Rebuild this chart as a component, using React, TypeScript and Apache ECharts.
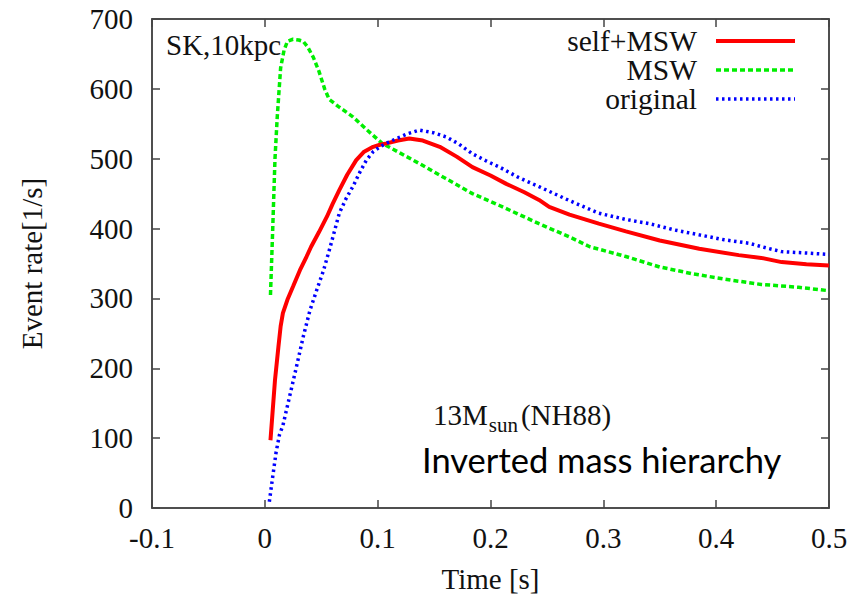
import React, { useEffect, useRef } from "react";
import * as echarts from "echarts";

const selfMswT = [0.005, 0.007, 0.009, 0.012, 0.014, 0.016, 0.020, 0.025, 0.031, 0.037, 0.041, 0.048, 0.055, 0.060, 0.066, 0.073, 0.081, 0.088, 0.096, 0.102, 0.108, 0.118, 0.128, 0.140, 0.155, 0.170, 0.184, 0.200, 0.214, 0.230, 0.243, 0.252, 0.270, 0.296, 0.320, 0.350, 0.385, 0.420, 0.440, 0.458, 0.480, 0.500];
const selfMswV = [97, 140, 183, 230, 260, 279, 298, 317, 340, 360, 374, 395, 417, 435, 455, 477, 498, 510, 517, 520, 522, 526, 529, 526, 517, 503, 488, 476, 464, 452, 441, 431, 420, 407, 396, 383, 371, 362, 358, 352, 349, 347];

const mswT = [0.005, 0.007, 0.009, 0.011, 0.014, 0.017, 0.020, 0.025, 0.030, 0.034, 0.038, 0.043, 0.048, 0.053, 0.057, 0.065, 0.078, 0.090, 0.104, 0.120, 0.137, 0.160, 0.184, 0.208, 0.243, 0.270, 0.288, 0.320, 0.350, 0.380, 0.414, 0.440, 0.473, 0.500];
const mswV = [305, 400, 500, 560, 630, 655, 668, 671, 670, 668, 660, 645, 625, 600, 585, 575, 560, 542, 522, 508, 493, 472, 450, 433, 407, 388, 374, 360, 345, 335, 326, 320, 316, 311];

const originalT = [0.004, 0.007, 0.010, 0.013, 0.016, 0.022, 0.028, 0.034, 0.040, 0.046, 0.052, 0.058, 0.066, 0.072, 0.078, 0.084, 0.090, 0.096, 0.102, 0.110, 0.117, 0.127, 0.137, 0.150, 0.161, 0.172, 0.184, 0.196, 0.208, 0.225, 0.243, 0.270, 0.296, 0.320, 0.341, 0.363, 0.385, 0.407, 0.429, 0.445, 0.458, 0.480, 0.500];
const originalV = [9, 45, 80, 105, 118, 160, 202, 245, 283, 312, 340, 374, 422, 443, 460, 480, 498, 510, 517, 524, 529, 536, 541, 537, 531, 521, 507, 497, 488, 473, 460, 440, 422, 413, 407, 398, 391, 384, 379, 372, 367, 365, 363];

const legendNames = ["self+MSW", "MSW", "original"];

const SERIF = "'Liberation Serif', 'Times New Roman', serif";

function pairs(t: number[], v: number[]) {
  return t.map((x, i) => [x, v[i]]);
}

export default function App() {
  const ref = useRef<HTMLDivElement>(null);
  useEffect(() => {
    if (!ref.current) return;
    const chart = echarts.init(ref.current, null, { renderer: "svg" });
    const axisLine = { show: true, onZero: false, lineStyle: { color: "#444", width: 1.5 } };
    const tick = { show: true, inside: true, length: 8, lineStyle: { color: "#444", width: 1.5 } };
    const xCommon = { type: "value", min: -0.1, max: 0.5, interval: 0.1, splitLine: { show: false }, axisLine, axisTick: tick };
    const yCommon = { type: "value", min: 0, max: 700, interval: 100, splitLine: { show: false }, axisLine, axisTick: tick };
    const colors = ["#ff0000", "#00ee00", "#0000ff"];
    const legendY = [41, 70, 99];
    const dashes: any[] = [null, [5, 3], [2.5, 3.5]];
    const widths = [4, 3.5, 3.5];
    const graphics: any[] = [];
    legendNames.forEach((n, i) => {
      graphics.push({
        type: "text",
        x: 697,
        y: legendY[i],
        style: { text: n, font: `29.5px ${SERIF}`, lineHeight: 26, fill: "#111", align: "right", verticalAlign: "middle" },
      });
      graphics.push({
        type: "line",
        shape: { x1: 716, y1: legendY[i], x2: 795, y2: legendY[i] },
        style: { stroke: colors[i], lineWidth: widths[i], lineDash: dashes[i] || undefined },
      });
    });
    graphics.push({
      type: "text",
      x: 166,
      y: 45,
      style: { text: "SK,10kpc", font: `29px ${SERIF}`, fill: "#111", verticalAlign: "middle" },
    });
    graphics.push({
      type: "text",
      x: 433,
      y: 400,
      style: {
        text: "{a|13M}{s|sun}{a|(NH88)}",
        fill: "#111",
        verticalAlign: "top",
        rich: {
          a: { fontFamily: SERIF, fontSize: 29, lineHeight: 30, verticalAlign: "top", fill: "#111" },
          s: { fontFamily: SERIF, fontSize: 21, lineHeight: 20, padding: [14, 3, 0, 1], verticalAlign: "top", fill: "#111" },
        },
      },
    });
    graphics.push({
      type: "text",
      x: 422,
      y: 459,
      style: { text: "Inverted mass hierarchy", font: "34.5px Lato", fill: "#000", verticalAlign: "middle" },
    });

    chart.setOption({
      animation: false,
      grid: { left: 152, right: 37, top: 19, bottom: 90, show: true, borderColor: "#444", borderWidth: 1.5, backgroundColor: "transparent" },
      xAxis: [
        {
          ...xCommon,
          position: "bottom",
          name: "Time [s]",
          nameLocation: "middle",
          nameGap: 56,
          nameTextStyle: { fontFamily: SERIF, fontSize: 29, color: "#111" },
          axisLabel: { fontFamily: SERIF, fontSize: 29, color: "#111", margin: 15 },
        },
        { ...xCommon, position: "top", axisLabel: { show: false } },
      ],
      yAxis: [
        {
          ...yCommon,
          position: "left",
          name: "Event rate[1/s]",
          nameLocation: "middle",
          nameGap: 106,
          nameTextStyle: { fontFamily: SERIF, fontSize: 29, color: "#111" },
          axisLabel: { fontFamily: SERIF, fontSize: 29, color: "#111", margin: 19 },
        },
        { ...yCommon, position: "right", axisLabel: { show: false } },
      ],
      series: [
        { name: legendNames[0], type: "line", data: pairs(selfMswT, selfMswV), showSymbol: false, symbol: "none", lineStyle: { color: colors[0], width: widths[0] }, z: 3 },
        { name: legendNames[1], type: "line", data: pairs(mswT, mswV), showSymbol: false, symbol: "none", lineStyle: { color: colors[1], width: widths[1], type: dashes[1] }, z: 2 },
        { name: legendNames[2], type: "line", data: pairs(originalT, originalV), showSymbol: false, symbol: "none", lineStyle: { color: colors[2], width: widths[2], type: dashes[2] }, z: 4 },
        { name: "mirror", type: "line", xAxisIndex: 1, yAxisIndex: 1, data: [], silent: true, showSymbol: false },
      ],
      graphic: graphics,
    });
    return () => chart.dispose();
  }, []);
  return <div ref={ref} style={{ position: "absolute", left: 0, top: 0, width: 866, height: 598 }} />;
}
